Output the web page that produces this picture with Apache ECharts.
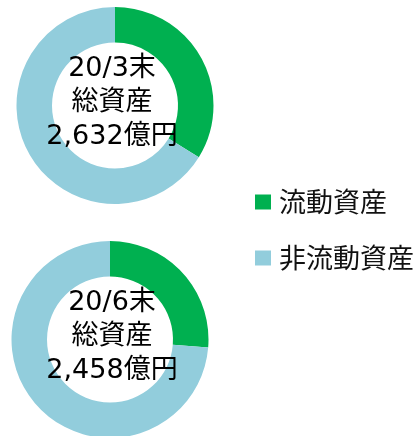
<!DOCTYPE html>
<html>
<head>
<meta charset="utf-8">
<script src="https://cdn.jsdelivr.net/npm/echarts@6/dist/echarts.min.js"></script>
<style>
  html, body { margin: 0; padding: 0; background: #fff; }
  #main { width: 420px; height: 436px; }
</style>
</head>
<body>
<div id="main"></div>
<script>
// 資産構成 (%)
const categories = ['流動資産', '非流動資産']
const mar20 = [33.8, 66.2]
const jun20 = [26.3, 73.7]
const labels = ['20/3末\n総資産\n2,632億円', '20/6末\n総資産\n2,458億円']
const colors = ['#00B050', '#92CDDC']

const FONT = '"Noto Sans CJK JP", "Noto Sans", sans-serif'
const MIX_FONT = '"DejaVu Sans", "Noto Sans CJK JP", sans-serif'

const chart = echarts.init(document.getElementById('main'))

const toData = vals => vals.map((v, i) => ({ name: categories[i], value: v }))

const pieBase = {
  type: 'pie',
  radius: [63, 98.5],
  startAngle: 90,
  clockwise: true,
  silent: true,
  label: { show: false },
  labelLine: { show: false },
  itemStyle: { borderWidth: 0 }
}

const option = {
  animation: false,
  color: colors,
  legend: {
    data: categories,
    orient: 'vertical',
    left: 250,
    top: 181,
    icon: 'rect',
    itemWidth: 16,
    itemHeight: 15,
    itemGap: 24,
    textStyle: {
      fontFamily: FONT,
      fontSize: 27,
      lineHeight: 32,
      padding: [0, 0, 0, 3],
      color: '#111'
    }
  },
  series: [
    Object.assign({}, pieBase, {
      name: labels[0],
      center: [115, 105.5],
      data: toData(mar20)
    }),
    Object.assign({}, pieBase, {
      name: labels[1],
      center: [110, 339.5],
      data: toData(jun20)
    })
  ]
}

// center texts drawn over the donuts
option.graphic = [
  { pos: [112, 103], text: labels[0] },
  { pos: [112, 337], text: labels[1] }
].map(t => ({
  type: 'text',
  x: t.pos[0],
  y: t.pos[1],
  z: 100,
  style: {
    text: t.text,
    font: '27px ' + MIX_FONT,
    lineHeight: 34,
    fill: '#000',
    align: 'center',
    verticalAlign: 'middle'
  }
}))

chart.setOption(option)
</script>
</body>
</html>
